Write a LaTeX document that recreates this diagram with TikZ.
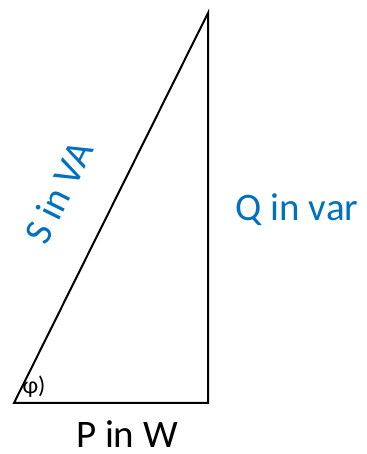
\documentclass[tikz,border=0pt]{standalone}
\usepackage{fontspec}
\setmainfont{Carlito}
\definecolor{qblue}{RGB}{0,112,192}
\tikzset{side/.style = {line width = 2pt, line join = miter}}
\tikzset{lbl/.style = {font = \fontsize{39}{42}\selectfont, inner sep = 0}}
\usetikzlibrary{calc}

\begin{document}
\begin{tikzpicture}[x=1pt, y=1pt]
\useasboundingbox (0,0) rectangle (366,454);
\coordinate (o) at (14,51);
\coordinate (p) at (208,51);
\coordinate (q) at (208,441);
\draw [side] (o) -- (p) -- (q) -- cycle;
\node [lbl, qblue] (s) at (59,262) [rotate = 63.5] {S in VA};
\node [lbl, qblue] (qv) at (297,244) {Q in var};
\node [lbl] (pw) at (127,20) {P in W};
\node [font = \fontsize{24}{26}\selectfont, inner sep = 0] (phi) at (34,67) {φ)};
\end{tikzpicture}
\end{document}
